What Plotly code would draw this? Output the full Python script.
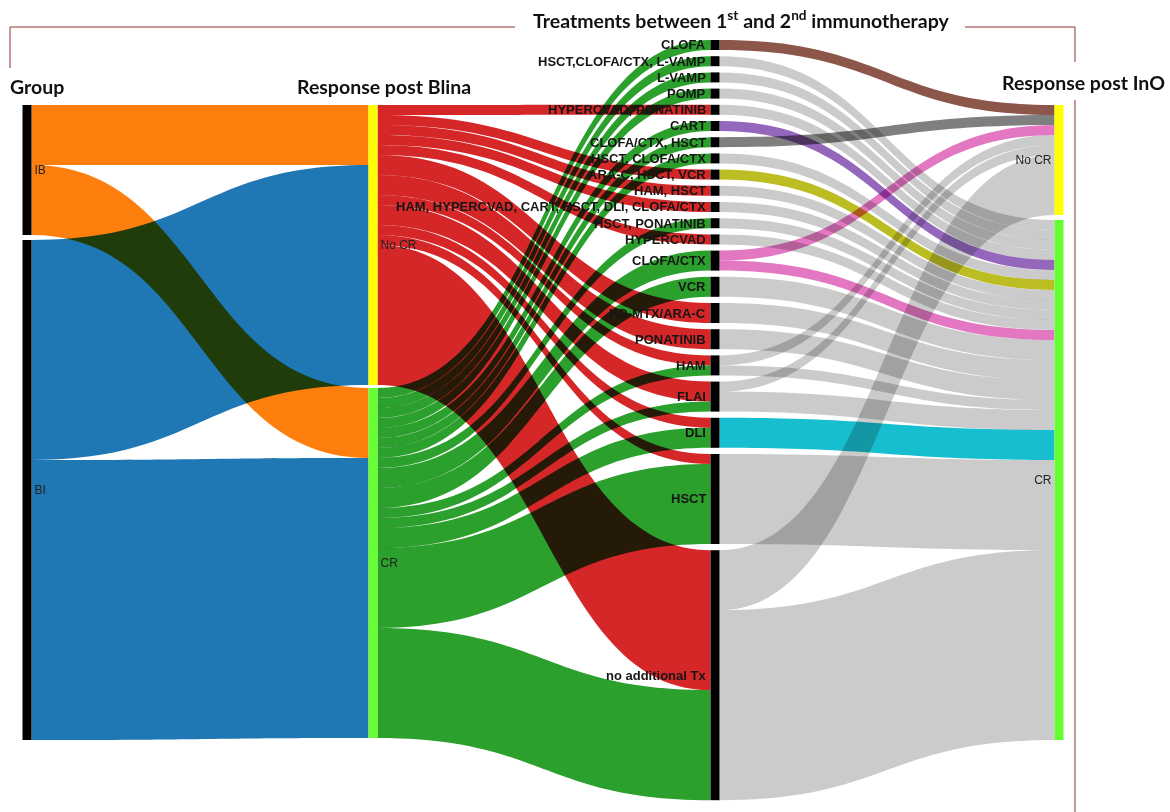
import plotly.graph_objects as go

# ---------------- data ----------------
groups = ["IB", "BI"]
blina_resp = ["No CR", "CR"]
ino_resp = ["No CR", "CR"]
# group -> response post Blina  (rows: IB, BI ; cols: No CR, CR)
grp_to_blina = [[6, 7], [22, 28]]

treatments = [
    "CLOFA", "HSCT,CLOFA/CTX, L-VAMP", "L-VAMP", "POMP", "HYPERCVAD, PONATINIB",
    "CART", "CLOFA/CTX, HSCT", "HSCT, CLOFA/CTX", "ARA-C, HSCT, VCR", "HAM, HSCT",
    "HAM, HYPERCVAD, CART, HSCT, DLI, CLOFA/CTX", "HSCT, PONATINIB", "HYPERCVAD",
    "CLOFA/CTX", "VCR", "HD-MTX/ARA-C", "PONATINIB", "HAM", "FLAI", "DLI", "HSCT",
    "no additional Tx",
]
from_blina_nocr = [0, 0, 0, 0, 1, 0, 0, 0, 1, 1, 1, 0, 1, 0, 0, 2, 2, 1, 2, 1, 1, 14]
from_blina_cr   = [1, 1, 1, 1, 0, 1, 1, 1, 0, 0, 0, 1, 0, 2, 2, 0, 0, 1, 1, 2, 8, 11]
to_ino_nocr     = [1, 0, 0, 0, 0, 0, 1, 0, 0, 0, 0, 0, 0, 1, 0, 0, 0, 1, 1, 0, 0, 6]
to_ino_cr       = [0, 1, 1, 1, 1, 1, 0, 1, 1, 1, 1, 1, 1, 1, 2, 2, 2, 1, 2, 3, 9, 19]

# ---------------- styling ----------------
W, H = 1170, 812
PX_PER_UNIT = 10.0
NODE_THICK = 9
col_x = [27, 373, 715, 1059]          # node column centres (px)
col_top = [105, 105, 40, 105]         # top of first node in each column (px)
col_gap = [5, 3, 6.2, 5]              # gap between nodes in a column (px)

grp_colors = ["#ff7f0e", "#1f77b4"]
resp_link_colors = ["#d62728", "#2ca02c"]
resp_node_colors = ["#ffff00", "#66ff33"]
special_tx_colors = {
    "CLOFA": "#8c564b", "CART": "#9467bd", "CLOFA/CTX, HSCT": "#7f7f7f",
    "ARA-C, HSCT, VCR": "#bcbd22", "CLOFA/CTX": "#e377c2", "DLI": "#17becf",
}
default_tx_color = "#cbcbcb"

# ---------------- build nodes ----------------
n_g, n_b, n_t = len(groups), len(blina_resp), len(treatments)
# treatment labels are drawn as annotations (left of the nodes, like the reference)
labels = groups + blina_resp + [""] * n_t + ino_resp
i_g = list(range(0, n_g))
i_b = list(range(n_g, n_g + n_b))
i_t = list(range(n_g + n_b, n_g + n_b + n_t))
i_i = list(range(n_g + n_b + n_t, n_g + n_b + n_t + 2))

grp_tot = [sum(r) for r in grp_to_blina]
blina_tot = [sum(r[j] for r in grp_to_blina) for j in range(2)]
tx_tot = [a + b for a, b in zip(from_blina_nocr, from_blina_cr)]
ino_tot = [sum(to_ino_nocr), sum(to_ino_cr)]

node_x, node_y, node_cy_px = [], [], []
for c, vals in enumerate([grp_tot, blina_tot, tx_tot, ino_tot]):
    y = col_top[c]
    for v in vals:
        h = v * PX_PER_UNIT
        node_x.append(col_x[c] / W)
        node_y.append((y + h / 2) / H)
        node_cy_px.append(y + h / 2)
        y += h + col_gap[c]

node_colors = ["black"] * n_g + resp_node_colors + ["black"] * n_t + resp_node_colors

# ---------------- build links ----------------
src, tgt, val, lcol = [], [], [], []
for gi in range(n_g):
    for bj in range(n_b):
        src.append(i_g[gi]); tgt.append(i_b[bj]); val.append(grp_to_blina[gi][bj]); lcol.append(grp_colors[gi])
for k in range(n_t):
    for bj, arr in enumerate([from_blina_nocr, from_blina_cr]):
        if arr[k]:
            src.append(i_b[bj]); tgt.append(i_t[k]); val.append(arr[k]); lcol.append(resp_link_colors[bj])
for k in range(n_t):
    c = special_tx_colors.get(treatments[k], default_tx_color)
    for ij, arr in enumerate([to_ino_nocr, to_ino_cr]):
        if arr[k]:
            src.append(i_t[k]); tgt.append(i_i[ij]); val.append(arr[k]); lcol.append(c)

# node padding chosen so that the densest column gives PX_PER_UNIT
pad = (H - PX_PER_UNIT * sum(tx_tot)) / (n_t - 1)

fig = go.Figure(go.Sankey(
    arrangement="fixed",
    domain=dict(x=[0, 1], y=[0, 1]),
    node=dict(label=labels, x=node_x, y=node_y, color=node_colors, pad=pad,
              thickness=NODE_THICK, line=dict(width=0)),
    link=dict(source=src, target=tgt, value=val, color=lcol),
    textfont=dict(family="Liberation Sans", size=12, color="#222222", shadow="none"),
))

# treatment labels, right-aligned just left of each treatment node
tx_font = dict(family="Liberation Sans", size=13, color="#151515", weight="bold")
annotations = []
for k in range(n_t):
    cy = node_cy_px[i_t[k]]
    annotations.append(dict(text=treatments[k], x=(col_x[2] - NODE_THICK / 2 - 3) / W, y=1 - cy / H,
                            xref="paper", yref="paper", xanchor="right", yanchor="middle",
                            showarrow=False, font=tx_font))

title_font = dict(family="Lato", size=19.5, color="#111111", weight="bold")
ann = [
    dict(text="Group", x=8, y=86, xanchor="left"),
    dict(text="Response post Blina", x=384, y=86, xanchor="center"),
    dict(text="Treatments between 1<sup>st</sup> and 2<sup>nd</sup> immunotherapy", x=741, y=20, xanchor="center"),
    dict(text="Response post InO", x=1083, y=83, xanchor="center"),
]
annotations += [dict(text=a["text"], x=a["x"] / W, y=1 - a["y"] / H, xref="paper", yref="paper",
                     xanchor=a["xanchor"], yanchor="middle", showarrow=False, font=title_font)
                for a in ann]

frame_color = "#8e3434"
segs = [(10, 27, 515, 27), (965, 27, 1075, 27), (10, 27, 10, 68), (1075, 27, 1075, 62), (1075, 100, 1075, 812)]
shapes = [dict(type="line", xref="paper", yref="paper", x0=a / W, y0=1 - b / H, x1=c / W, y1=1 - d / H,
               line=dict(color=frame_color, width=1)) for a, b, c, d in segs]

fig.update_layout(width=W, height=H, margin=dict(l=0, r=0, t=0, b=0),
                  paper_bgcolor="white", plot_bgcolor="white",
                  annotations=annotations, shapes=shapes)

post = ("var gd=document.getElementById('{plot_id}');"
        "function f(){gd.querySelectorAll('.sankey-link').forEach(function(e){e.style.mixBlendMode='multiply';});}"
        "f();setTimeout(f,50);setTimeout(f,300);")
fig.write_html("out.html", post_script=post)
